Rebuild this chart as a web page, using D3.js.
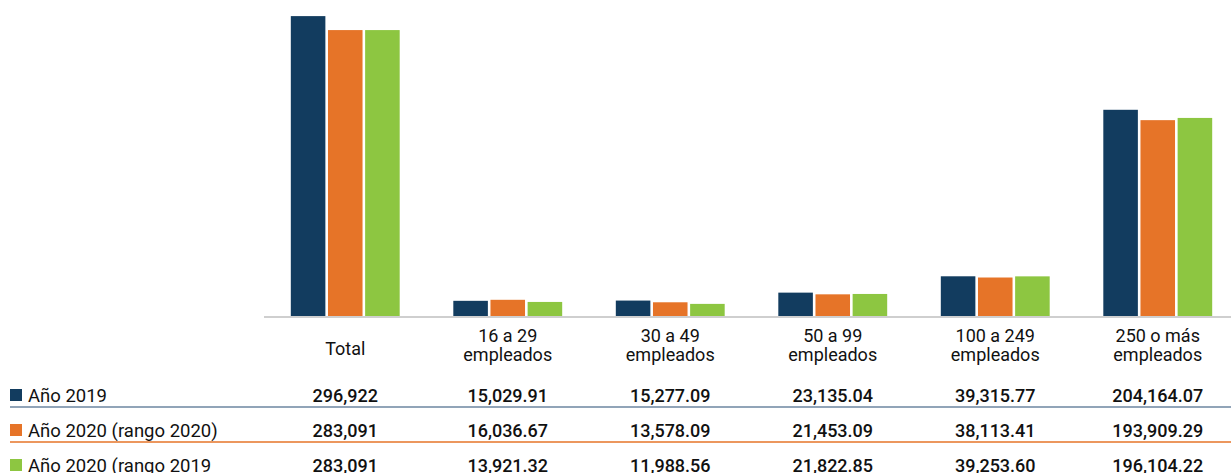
<!DOCTYPE html>
<html lang="es">

<head>
  <meta charset="utf-8">
  <script src="https://d3js.org/d3.v7.min.js"></script>
  <style>
    body {
      margin: 0;
      background: #fff;
    }

    svg {
      display: block;
      font-family: Roboto, sans-serif;
    }
  </style>
</head>

<body>
  <svg width="1231" height="473"></svg>
  <script>
    const categories = [["Total"], ["16 a 29", "empleados"], ["30 a 49", "empleados"],
      ["50 a 99", "empleados"], ["100 a 249", "empleados"], ["250 o más", "empleados"]];
    const seriesNames = ["Año 2019", "Año 2020 (rango 2020)", "Año 2020 (rango 2019"];
    const colors = ["#123c5f", "#e67428", "#8dc641"];
    const lineColors = ["#6d86a1", "#e67428"];

    const v2019 = [296922, 15029.91, 15277.09, 23135.04, 39315.77, 204164.07];
    const v2020r2020 = [283091, 16036.67, 13578.09, 21453.09, 38113.41, 193909.29];
    const v2020r2019 = [283091, 13921.32, 11988.56, 21822.85, 39253.60, 196104.22];
    const labels2019 = ["296,922", "15,029.91", "15,277.09", "23,135.04", "39,315.77", "204,164.07"];
    const labels2020r2020 = ["283,091", "16,036.67", "13,578.09", "21,453.09", "38,113.41", "193,909.29"];
    const labels2020r2019 = ["283,091", "13,921.32", "11,988.56", "21,822.85", "39,253.60", "196,104.22"];

    const values = [v2019, v2020r2020, v2020r2019];
    const tableLabels = [labels2019, labels2020r2020, labels2020r2019];

    const svg = d3.select("svg");
    const catKeys = categories.map(c => c.join(" "));

    const x0 = d3.scaleBand()
      .domain(catKeys)
      .range([264, 1239])
      .paddingInner(0.33)
      .paddingOuter(0.165);

    const x1 = d3.scaleBand()
      .domain(d3.range(3))
      .range([0, x0.bandwidth()])
      .paddingInner(0.07);

    const y = d3.scaleLinear().domain([0, 300000]).range([316, 13]);

    const groups = svg.selectAll("g.grp")
      .data(catKeys)
      .join("g")
      .attr("class", "grp")
      .attr("transform", d => `translate(${x0(d)},0)`);

    groups.selectAll("rect")
      .data((d, i) => values.map((s, j) => ({ s: j, v: s[i] })))
      .join("rect")
      .attr("x", d => x1(d.s))
      .attr("width", x1.bandwidth())
      .attr("y", d => y(d.v))
      .attr("height", d => y(0) - y(d.v))
      .attr("fill", d => colors[d.s]);

    // baseline
    svg.append("line")
      .attr("x1", 264).attr("x2", 1231)
      .attr("y1", 317).attr("y2", 317)
      .attr("stroke", "#cfcfcf")
      .attr("stroke-width", 2);

    // category labels
    const center = k => x0(k) + x0.bandwidth() / 2;
    categories.forEach((c, i) => {
      const t = svg.append("text")
        .attr("x", center(catKeys[i]))
        .attr("text-anchor", "middle")
        .attr("font-size", 18)
        .attr("fill", "#111");
      if (c.length === 1) {
        t.attr("y", 355).text(c[0]);
      } else {
        t.append("tspan").attr("x", center(catKeys[i])).attr("y", 342).text(c[0]);
        t.append("tspan").attr("x", center(catKeys[i])).attr("y", 361).text(c[1]);
      }
    });

    // data table
    const rowBase = [402, 437, 472];
    seriesNames.forEach((name, r) => {
      svg.append("rect")
        .attr("x", 10).attr("y", rowBase[r] - 13)
        .attr("width", 12).attr("height", 12)
        .attr("fill", colors[r]);
      svg.append("text")
        .attr("x", 28).attr("y", rowBase[r])
        .attr("font-size", 18.5)
        .attr("fill", "#111")
        .text(name);
      svg.selectAll(null)
        .data(tableLabels[r])
        .join("text")
        .attr("x", (d, i) => center(catKeys[i]))
        .attr("y", rowBase[r])
        .attr("text-anchor", "middle")
        .attr("font-size", 18)
        .attr("font-weight", 500)
        .attr("fill", "#111")
        .text(d => d);
      if (r < 2) {
        svg.append("line")
          .attr("x1", 10).attr("x2", 1231)
          .attr("y1", rowBase[r] + 5).attr("y2", rowBase[r] + 5)
          .attr("stroke", lineColors[r])
          .attr("stroke-width", 1.5);
      }
    });
  </script>
</body>

</html>
